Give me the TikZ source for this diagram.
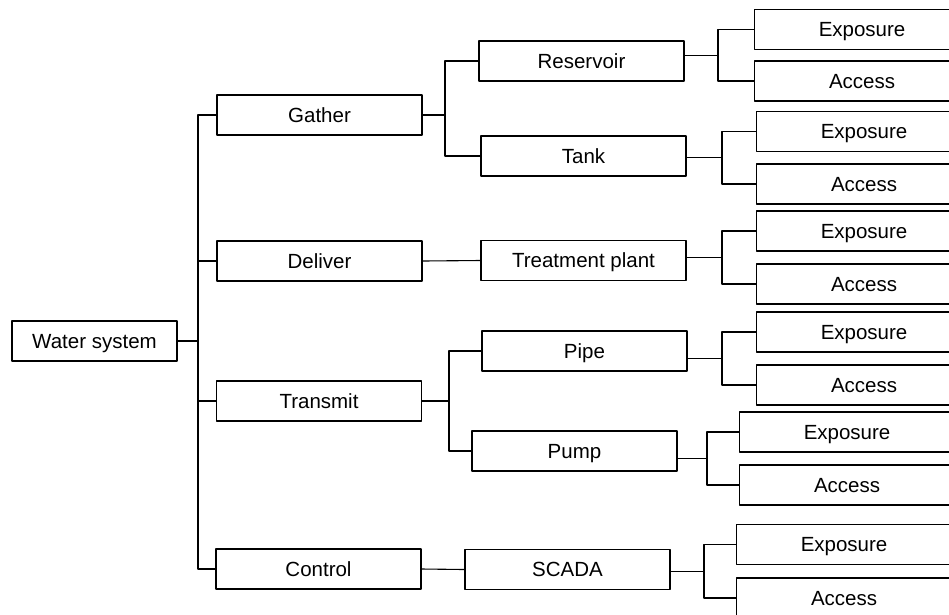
\documentclass[tikz,border=0pt]{standalone}
\usepackage{fontspec}
\setmainfont{Liberation Sans}
\begin{document}
\begin{tikzpicture}[x=1pt, y=-1pt, line join=round, line width=1.1pt,
  box/.style={draw, minimum width=205pt, minimum height=40pt, inner sep=0pt,
    text height=14.7pt, text depth=0pt, font=\fontsize{20.5}{24}\selectfont},
  leaf/.style={box, anchor=west, minimum width=215pt}]
\useasboundingbox (0,0) rectangle (949,614);
\clip (0,0) rectangle (949,614);
% left part
\node[box, minimum width=165pt] (root) at (94.5,341) {Water system};
\node[box] (gat) at (319.5,115) {Gather};
\node[box] (del) at (319.5,261) {Deliver};
\node[box] (tra) at (319,401) {Transmit};
\node[box] (ctl) at (318.5,569) {Control};
\coordinate (trunk) at (198,341);
\draw (root.east) -- (trunk);
\draw (gat.west) -| (trunk) |- (ctl.west);
\draw (trunk |- del.west) -- (del.west) (trunk |- tra.west) -- (tra.west);
% middle part
\node[box] (res) at (581.5,61) {Reservoir};
\node[box] (tank) at (583.5,156) {Tank};
\node[box] (plant) at (583.5,260.5) {Treatment plant};
\node[box] (pipe) at (584.5,351) {Pipe};
\node[box] (pump) at (574.5,451) {Pump};
\node[box] (scada) at (567.5,569.5) {SCADA};
\coordinate (gat-f) at (445,115);
\coordinate (tra-f) at (449,401);
\draw (gat.east) -- (gat-f) (res.west) -| (gat-f) |- (tank.west);
\draw (tra.east) -- (tra-f) (pipe.west) -| (tra-f) |- (pump.west);
\draw (del.east) -- (plant.west) (ctl.east) -- (scada.west);
% leaves
\foreach \p/\f/\lx/\ya/\yb in {res/718/754/29.5/81, tank/722/756/131.5/184,
  plant/722/756/231/284, pipe/722/756/332/385, pump/707/739/432/485,
  scada/704/736/544.5/598}{
  \node[leaf] (\p-exp) at (\lx,\ya) {Exposure};
  \node[leaf] (\p-acc) at (\lx,\yb) {Access};
  \coordinate (\p-f) at (\f,{(\ya+\yb)/2});
  \draw (\p.east |- \p-f) -- (\p-f);
  \draw (\p-exp.west) -| (\p-f) |- (\p-acc.west);
}
\end{tikzpicture}
\end{document}
